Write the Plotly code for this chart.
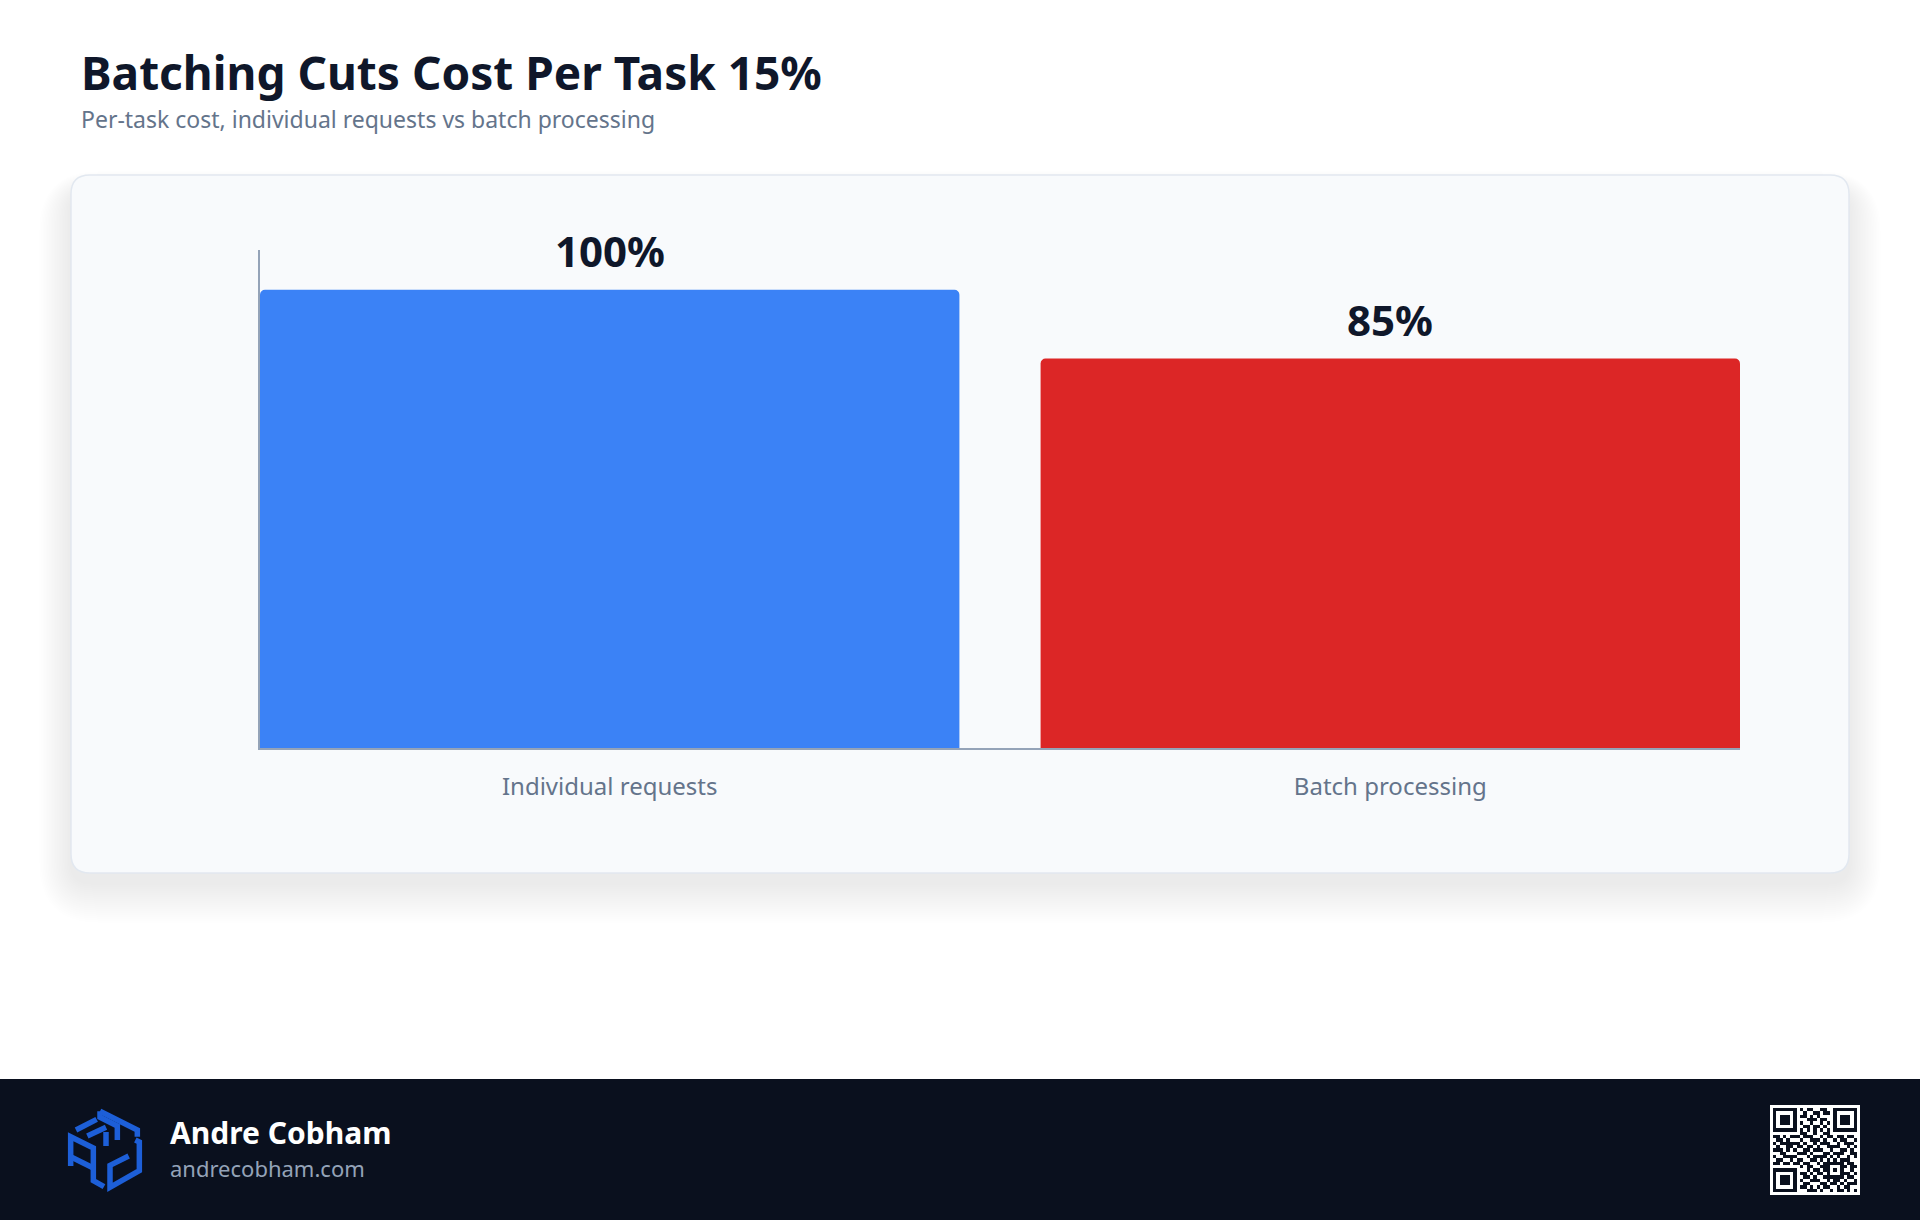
import plotly.graph_objects as go

# ---------------- data ----------------
categories = ["Individual requests", "Batch processing"]
values = [100, 85]
value_labels = ["100%", "85%"]
bar_colors = ["#3b82f6", "#dc2626"]

title_text = "Batching Cuts Cost Per Task 15%"
subtitle_text = "Per-task cost, individual requests vs batch processing"
author_name = "Andre Cobham"
author_url = "andrecobham.com"

qr_rows = [
    "1111111" + "0" + "101100110" + "0" + "1111111",
    "1000001" + "0" + "010011011" + "0" + "1000001",
    "1011101" + "0" + "110101000" + "0" + "1011101",
    "1011101" + "0" + "001110110" + "0" + "1011101",
    "1011101" + "0" + "100100101" + "0" + "1011101",
    "1000001" + "0" + "011011010" + "0" + "1000001",
    "1111111" + "0" + "101010101" + "0" + "1111111",
    "0000000" + "0" + "110010011" + "0" + "0000000",
    "1101011" + "1" + "011100101" + "1" + "0110110",
    "0110100" + "0" + "100111010" + "0" + "1011001",
    "1011111" + "1" + "010010111" + "0" + "0101110",
    "0100110" + "1" + "101101001" + "1" + "1100101",
    "1110101" + "0" + "011011100" + "1" + "0011010",
    "0011000" + "1" + "110100011" + "0" + "1110011",
    "1001111" + "0" + "001011110" + "1" + "0100101",
    "0110010" + "1" + "100110101" + "0" + "1011100",
    "1101101" + "1" + "01100101" + "11111" + "0110",
    "0000000" + "0" + "10110011" + "10001" + "1011",
    "1111111" + "0" + "00101101" + "10101" + "0010",
    "1000001" + "0" + "11010110" + "10001" + "1101",
    "1011101" + "0" + "01101001" + "11111" + "0110",
    "1011101" + "0" + "10011100" + "10110" + "1001",
    "1011101" + "0" + "01100011" + "01101" + "0111",
    "1000001" + "0" + "11010101" + "10010" + "1100",
    "1111111" + "0" + "00111010" + "01011" + "0101",
]

# ---------------- geometry helpers ----------------
W, H = 1920, 1220
FONT = "Noto Sans"


def X(px):
    return px / W


def Y(py):
    return 1 - py / H


def rrect(x0, y0, x1, y1, r):
    pts = [
        f"M{X(x0 + r)},{Y(y0)}",
        f"L{X(x1 - r)},{Y(y0)}",
        f"Q{X(x1)},{Y(y0)} {X(x1)},{Y(y0 + r)}",
        f"L{X(x1)},{Y(y1 - r)}",
        f"Q{X(x1)},{Y(y1)} {X(x1 - r)},{Y(y1)}",
        f"L{X(x0 + r)},{Y(y1)}",
        f"Q{X(x0)},{Y(y1)} {X(x0)},{Y(y1 - r)}",
        f"L{X(x0)},{Y(y0 + r)}",
        f"Q{X(x0)},{Y(y0)} {X(x0 + r)},{Y(y0)}",
        "Z",
    ]
    return " ".join(pts)


def polyline(points):
    # points given in logo design units -> pixel
    out = []
    for i, (zx, zy) in enumerate(points):
        px = 50 + zx / 3
        py = 1090 + zy / 3
        out.append(("M" if i == 0 else "L") + f"{X(px)},{Y(py)}")
    return " ".join(out)


shapes = []

# card shadow (soft, layered, mostly below the card)
for i in range(20, 0, -1):
    e = i * 2.0
    shapes.append(dict(
        type="path", xref="paper", yref="paper", layer="below",
        path=rrect(71 - e * 0.8, 175 - e * 0.5 + 16, 1849 + e * 0.8, 873 + e + 10, 20 + e),
        fillcolor="rgba(15,23,42,0.0038)", line=dict(width=0),
    ))
# card
shapes.append(dict(
    type="path", xref="paper", yref="paper", layer="below",
    path=rrect(71, 175, 1849, 873, 19),
    fillcolor="#f8fafc", line=dict(color="#e2e8f0", width=1.5),
))

# footer band
shapes.append(dict(
    type="rect", xref="paper", yref="paper", layer="below",
    x0=0, x1=1, y0=Y(1220), y1=Y(1079),
    fillcolor="#0a101e", line=dict(width=0),
))

# QR white background
shapes.append(dict(
    type="rect", xref="paper", yref="paper", layer="below",
    x0=X(1770), x1=X(1860), y0=Y(1195), y1=Y(1105),
    fillcolor="#ffffff", line=dict(width=0),
))

# logo strokes
logo_color = "#1d5fd8"
logo_paths = [
    [(78, 120), (140, 88)],
    [(150, 64), (262, 120), (262, 140)],
    [(150, 64), (150, 82), (202, 108), (202, 150)],
    [(112, 138), (168, 112)],
    [(168, 126), (168, 168)],
    [(62, 228), (62, 140), (130, 174), (130, 272), (162, 290)],
    [(62, 200), (130, 234)],
    [(256, 150), (268, 156), (268, 242), (180, 292), (180, 226), (236, 198)],
]
for pts in logo_paths:
    shapes.append(dict(
        type="path", xref="paper", yref="paper", layer="above",
        path=polyline(pts), line=dict(color=logo_color, width=5.5),
    ))

# ---------------- figure ----------------
fig = go.Figure()

fig.add_trace(go.Bar(
    x=categories, y=values,
    marker=dict(color=bar_colors, cornerradius=5, line=dict(width=0)),
    hoverinfo="skip", showlegend=False,
))

qr_z = [[int(c) for c in row] for row in qr_rows]
fig.add_trace(go.Heatmap(
    z=qr_z, xaxis="x2", yaxis="y2",
    colorscale=[[0, "#ffffff"], [1, "#0a101e"]],
    showscale=False, hoverinfo="skip",
))

annotations = []
for c, v, lab in zip(categories, values, value_labels):
    annotations.append(dict(
        x=c, y=v, xref="x", yref="y", text=lab, showarrow=False,
        yanchor="bottom", xanchor="center", yshift=9,
        font=dict(family=FONT, size=42, color="#0f172a", weight="bold"),
    ))


def text_top(baseline, fs):
    return baseline - 1 - 1.069 * fs


annotations += [
    dict(text=title_text, x=X(79), y=Y(text_top(89, 46)), xref="paper", yref="paper",
         xanchor="left", yanchor="top", showarrow=False,
         font=dict(family=FONT, size=46, color="#0f172a", weight="bold")),
    dict(text=subtitle_text, x=X(79), y=Y(text_top(127, 23)), xref="paper", yref="paper",
         xanchor="left", yanchor="top", showarrow=False,
         font=dict(family=FONT, size=23, color="#64748b")),
    dict(text=author_name, x=X(168), y=Y(text_top(1143, 30)), xref="paper", yref="paper",
         xanchor="left", yanchor="top", showarrow=False,
         font=dict(family=FONT, size=30, color="#ffffff", weight="bold")),
    dict(text=author_url, x=X(168), y=Y(text_top(1176, 22)), xref="paper", yref="paper",
         xanchor="left", yanchor="top", showarrow=False,
         font=dict(family=FONT, size=22, color="#94a3b8")),
]

fig.update_layout(
    width=W, height=H,
    margin=dict(l=0, r=0, t=0, b=0, pad=0),
    paper_bgcolor="#ffffff", plot_bgcolor="rgba(0,0,0,0)",
    bargap=0.104,
    font=dict(family=FONT),
    shapes=shapes,
    annotations=annotations,
    xaxis=dict(
        domain=[X(260), X(1740)], range=[-0.448, 1.448],
        showline=True, linecolor="#94a3b8", linewidth=2,
        showgrid=False, zeroline=False, ticks="",
        tickfont=dict(family=FONT, size=24, color="#64748b"),
        ticklabelstandoff=16, fixedrange=True,
    ),
    yaxis=dict(
        domain=[Y(748), Y(250)], range=[0, 108.7],
        showline=True, linecolor="#94a3b8", linewidth=1.5,
        showgrid=False, zeroline=False, showticklabels=False, ticks="",
        fixedrange=True,
    ),
    xaxis2=dict(
        domain=[X(1773), X(1857)], range=[-0.5, 24.5], anchor="y2",
        visible=False, fixedrange=True,
    ),
    yaxis2=dict(
        domain=[Y(1192), Y(1108)], range=[24.5, -0.5], anchor="x2",
        visible=False, fixedrange=True,
    ),
)

fig.write_html(
    "out.html",
    config=dict(displayModeBar=False),
    post_script="document.body.style.margin='0';document.body.style.overflow='hidden';",
)
